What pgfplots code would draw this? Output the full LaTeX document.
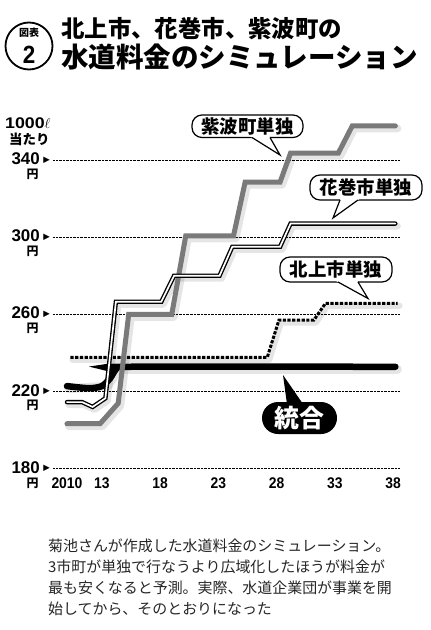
\documentclass[border=0pt]{standalone}
\usepackage{pgfplots}
\pgfplotsset{compat=1.18}
\usetikzlibrary{calc}
\usepackage{fontspec}
\setmainfont{Liberation Sans}
\newfontfamily\jp{Noto Sans CJK JP}
\newfontfamily\num[FakeStretch=0.9]{Liberation Sans}
\newfontfamily\wide[FakeStretch=1.15]{Liberation Sans}
\newfontfamily\dv{DejaVu Sans}
\definecolor{sgray}{HTML}{7A7A7A}
\begin{document}
\begin{tikzpicture}[x=1bp,y=1bp]
\useasboundingbox (0,0) rectangle (430,-630);
\coordinate (A) at (53,-468.7);
% title
\draw[line width=1.8bp] (29,-46) circle (23.5);
\node[inner sep=0, font=\jp\bfseries\fontsize{10}{10}\selectfont] at (29,-33) {図表};
\node[inner sep=0, font=\num\bfseries\fontsize{25}{25}\selectfont] at (29,-55) {2};
\node[anchor=west, inner sep=0, font=\jp\bfseries\fontsize{23.5}{24}\selectfont] at (61,-29) {北上市、花巻市、紫波町の};
\node[anchor=west, inner sep=0, font=\jp\bfseries\fontsize{27.6}{28}\selectfont] at (61,-57) {水道料金のシミュレーション};
% unit
\node[anchor=west, inner sep=0, font=\wide\bfseries\fontsize{15.5}{15.5}\selectfont] at (5,-123.5) {1000$\ell$};
\node[anchor=west, inner sep=0, font=\jp\bfseries\fontsize{13.5}{13.5}\selectfont] at (9,-139.5) {当たり};

\begin{axis}[at={(A)}, anchor=south west, scale only axis,
  width=347bp, height=366.7bp,
  xmin=2008.8, xmax=2038.6, ymin=180, ymax=370,
  axis line style={draw=none}, major tick length=0,
  ytick={180,220,260,300,340}, yticklabels={},
  ymajorgrids, grid style={black, densely dotted, line width=0.7bp},
  xtick={2010,2013,2018,2023,2028,2033,2038},
  xticklabels={2010,13,18,23,28,33,38},
  xticklabel style={font=\num\bfseries\fontsize{15.5}{15.5}\selectfont, yshift=-5bp},
  /pgf/number format/assume math mode=true,
  clip=false,
  shadow/.style={black, opacity=0.10, line width=#1, xshift=2bp, yshift=-2.5bp, line join=round, line cap=round},
]
\pgfplotsinvokeforeach{180,220,260,300,340}{
  \node[anchor=east, inner sep=0, font=\bfseries\fontsize{17}{17}\selectfont] at (axis cs:2007.68,{#1+0.6}) {#1};
  \node[inner sep=0, font=\dv\fontsize{8.5}{8.5}\selectfont] at (axis cs:2008.25,#1) {▶};
  \node[inner sep=0, font=\jp\bfseries\fontsize{12}{12}\selectfont] at (axis cs:2007.04,{#1-7.4}) {円};
}
% shadows
\addplot[shadow=8bp] coordinates {(2010,203.3) (2012.84,203.3) (2014.4,213.9) (2015.3,260) (2019.0,260) (2020.2,300.6) (2024.3,300.6) (2025.3,328.5) (2028.3,328.5) (2029.2,343.5) (2033.3,343.5) (2034.5,357.6) (2038.2,357.6)};
\addplot[shadow=7bp] coordinates {(2010,214.5) (2011.3,214.5) (2012.2,212) (2013.3,216.5) (2014.2,266.5) (2018.1,266.5) (2019.2,280) (2023.1,280) (2024.2,295) (2028.3,295) (2029.2,307) (2038.2,307)};
\addplot[shadow=6bp] coordinates {(2010.3,237.7) (2027.2,237.7) (2028.2,257) (2031.2,257) (2032.2,265.7) (2038.4,265.7)};
\addplot[shadow=9bp] coordinates {(2010,222.8) (2013.3,224) (2014.3,232.8) (2038.2,232.8)};
% 北上市 (dashed)
\addplot[black, line width=3bp, dash pattern=on 3.2bp off 1.5bp, line join=miter] coordinates {(2010.3,237.7) (2027.2,237.7) (2028.2,257) (2031.2,257) (2032.2,265.7) (2038.4,265.7)};
% 統合
\addplot[black, line width=6.5bp, line cap=round, smooth, tension=0.45] coordinates {(2010,222.8) (2011.9,221.7) (2013.0,222.8) (2013.7,226.8) (2014.2,231.5) (2014.8,232.8) (2038.2,232.8)};
% 紫波町
\addplot[sgray, line width=5bp, line join=miter, line cap=round] coordinates {(2010,203.3) (2012.84,203.3) (2014.4,213.9) (2015.3,260) (2019.0,260) (2020.2,300.6) (2024.3,300.6) (2025.3,328.5) (2028.3,328.5) (2029.2,343.5) (2033.3,343.5) (2034.5,357.6) (2038.2,357.6)};
% 花巻市
\addplot[black, line width=4.4bp, line join=miter, line cap=round] coordinates {(2010,214.5) (2011.3,214.5) (2012.2,212) (2013.3,216.5) (2014.2,266.5) (2018.1,266.5) (2019.2,280) (2023.1,280) (2024.2,295) (2028.3,295) (2029.2,307) (2038.2,307)};
\addplot[white, line width=1.7bp, line join=miter, line cap=round] coordinates {(2010,214.5) (2011.3,214.5) (2012.2,212) (2013.3,216.5) (2014.2,266.5) (2018.1,266.5) (2019.2,280) (2023.1,280) (2024.2,295) (2028.3,295) (2029.2,307) (2038.2,307)};
\end{axis}

% callouts
\tikzset{cbox/.style={line width=1.2bp, fill=white, rounded corners=10bp}}
% 紫波町単独
\draw[cbox] (192,-115) rectangle (303,-137.5);
\coordinate (t) at (280,-155);
\fill[white] ($(t)!1.25!(252,-137.5)$) -- (t) -- ($(t)!1.25!(270,-137.5)$) -- cycle;
\draw[line width=1.2bp] (252,-137.5) -- (t) -- (270,-137.5);
\node[inner sep=0, font=\jp\bfseries\fontsize{18.5}{19}\selectfont] at (247.5,-126.2) {紫波町単独};
% 花巻市単独
\draw[cbox] (310,-175) rectangle (422,-200);
\coordinate (t) at (333,-218);
\fill[white] ($(t)!1.25!(340,-200)$) -- (t) -- ($(t)!1.25!(358,-200)$) -- cycle;
\draw[line width=1.2bp] (340,-200) -- (t) -- (358,-200);
\node[inner sep=0, font=\jp\bfseries\fontsize{18.5}{19}\selectfont] at (366,-187.5) {花巻市単独};
% 北上市単独
\draw[cbox] (280,-257) rectangle (392,-282);
\coordinate (t) at (368,-298.5);
\fill[white] ($(t)!1.25!(338,-282)$) -- (t) -- ($(t)!1.25!(358,-282)$) -- cycle;
\draw[line width=1.2bp] (338,-282) -- (t) -- (358,-282);
\node[inner sep=0, font=\jp\bfseries\fontsize{18.5}{19}\selectfont] at (336,-269.5) {北上市単独};
% 統合
\fill[black, rounded corners=16bp] (262,-402) rectangle (337,-434);
\fill[black] (283,-375) -- (287,-404) -- (303,-404) -- cycle;
\node[inner sep=0, text=white, font=\jp\bfseries\fontsize{25}{25}\selectfont] at (299.5,-418) {統合};

% caption
\node[anchor=north west, inner sep=0, align=left, text=black!85, font=\jp\fontsize{15}{21}\selectfont] at (48,-539) {菊池さんが作成した水道料金のシミュレーション。\\3市町が単独で行なうより広域化したほうが料金が\\最も安くなると予測。実際、水道企業団が事業を開\\始してから、そのとおりになった};
\end{tikzpicture}
\end{document}
